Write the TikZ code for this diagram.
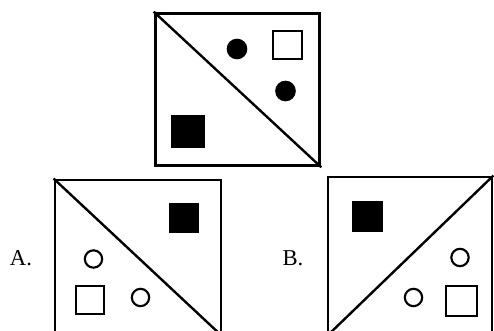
\documentclass[tikz,border=0pt]{standalone}
\usepackage{fontspec}
\setmainfont{Liberation Serif}
\begin{document}
\begin{tikzpicture}[x=0.75pt, y=-0.75pt,
    panel/.style={draw, line width=2.2pt, inner sep=0pt},
    solidsq/.style={fill=black, inner sep=0pt, minimum size=23pt},
    hollowsq/.style={draw, line width=1.6pt, inner sep=0pt, minimum size=21.5pt},
    dot/.style={circle, fill=black, inner sep=0pt, minimum size=15.5pt},
    ring/.style={circle, draw, line width=1.6pt, inner sep=0pt, minimum size=13pt},
    choice/.style={font=\fontsize{17}{17}\selectfont}]
    \useasboundingbox (0,0) rectangle (494,331);
    \clip (0,0) rectangle (494,331);

    % 1. Hình gốc ở trên
    \node[panel, minimum width=123.5pt, minimum height=114.5pt] (top) at (237.5,89.5) {};
    \draw[line width=1.8pt] (top.north west) -- (top.south east);
    \node[dot] (t1) at (237,49) {};
    \node[hollowsq] (t2) at (287.5,45) {};
    \node[dot] (t3) at (285.5,91) {};
    \node[solidsq, minimum width=25pt, minimum height=24.5pt] (t4) at (188,131.5) {};

    % 2. Phương án A
    \node[panel, minimum width=124.5pt, minimum height=116.25pt] (pa) at (138,257.5) {};
    \draw[line width=1.8pt] (pa.north west) -- (pa.south east);
    \node[solidsq, minimum height=22.5pt] (a1) at (184,218) {};
    \node[ring] (a2) at (93.5,259) {};
    \node[hollowsq] (a3) at (90,300) {};
    \node[ring] (a4) at (140.5,297.5) {};
    \node[choice] (la) at (21,258) {A.};

    % 3. Phương án B
    \node[panel, minimum width=123pt, minimum height=118.5pt] (pb) at (410,256) {};
    \draw[line width=1.8pt] (pb.south west) -- (pb.north east);
    \node[solidsq] (b1) at (367.5,216.5) {};
    \node[ring] (b2) at (460,257.5) {};
    \node[ring] (b3) at (413.5,297.5) {};
    \node[hollowsq, minimum width=23pt, minimum height=22.5pt] (b4) at (461.5,301) {};
    \node[choice] (lb) at (293,258) {B.};
\end{tikzpicture}
\end{document}
